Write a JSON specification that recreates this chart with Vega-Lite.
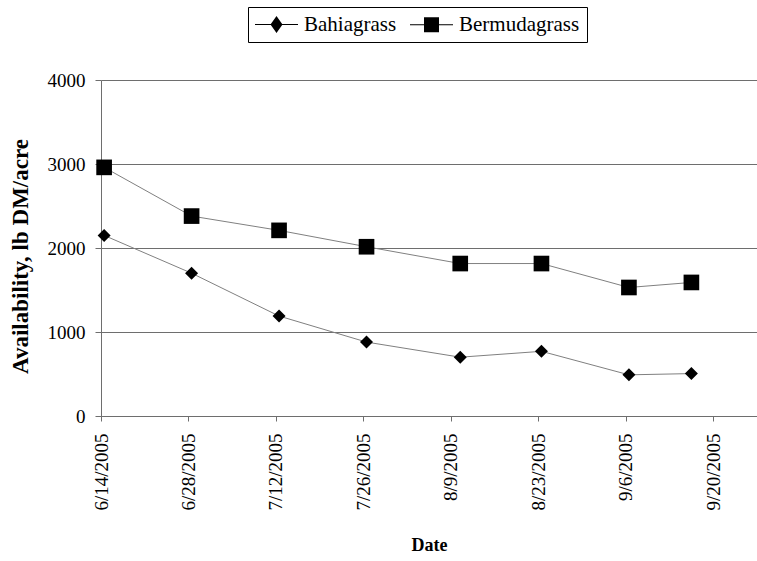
{
  "$schema": "https://vega.github.io/schema/vega-lite/v6.json",
  "autosize": "none",
  "width": 656,
  "height": 336,
  "padding": {"left": 101, "top": 80, "right": 0, "bottom": 145},
  "background": "white",
  "config": {"view": {"stroke": null}, "font": "Liberation Serif, Times New Roman, serif"},
  "data": {
    "values": [
      {"date": "2005-06-14T12:00:00Z", "series": "Bahiagrass", "value": 2150},
      {"date": "2005-06-28T12:00:00Z", "series": "Bahiagrass", "value": 1700},
      {"date": "2005-07-12T12:00:00Z", "series": "Bahiagrass", "value": 1190},
      {"date": "2005-07-26T12:00:00Z", "series": "Bahiagrass", "value": 880},
      {"date": "2005-08-10T12:00:00Z", "series": "Bahiagrass", "value": 700},
      {"date": "2005-08-23T12:00:00Z", "series": "Bahiagrass", "value": 770},
      {"date": "2005-09-06T12:00:00Z", "series": "Bahiagrass", "value": 490},
      {"date": "2005-09-16T12:00:00Z", "series": "Bahiagrass", "value": 505},
      {"date": "2005-06-14T12:00:00Z", "series": "Bermudagrass", "value": 2960},
      {"date": "2005-06-28T12:00:00Z", "series": "Bermudagrass", "value": 2380},
      {"date": "2005-07-12T12:00:00Z", "series": "Bermudagrass", "value": 2210},
      {"date": "2005-07-26T12:00:00Z", "series": "Bermudagrass", "value": 2015},
      {"date": "2005-08-10T12:00:00Z", "series": "Bermudagrass", "value": 1815},
      {"date": "2005-08-23T12:00:00Z", "series": "Bermudagrass", "value": 1815},
      {"date": "2005-09-06T12:00:00Z", "series": "Bermudagrass", "value": 1530},
      {"date": "2005-09-16T12:00:00Z", "series": "Bermudagrass", "value": 1590}
    ]
  },
  "encoding": {
    "x": {
      "field": "date",
      "type": "temporal",
      "scale": {
        "type": "utc",
        "domain": [
          {"year": 2005, "month": 6, "date": 14, "utc": true},
          {"year": 2005, "month": 9, "date": 27, "utc": true}
        ]
      },
      "axis": {
        "title": "Date",
        "values": [
          {"year": 2005, "month": 6, "date": 14, "utc": true},
          {"year": 2005, "month": 6, "date": 28, "utc": true},
          {"year": 2005, "month": 7, "date": 12, "utc": true},
          {"year": 2005, "month": 7, "date": 26, "utc": true},
          {"year": 2005, "month": 8, "date": 9, "utc": true},
          {"year": 2005, "month": 8, "date": 23, "utc": true},
          {"year": 2005, "month": 9, "date": 6, "utc": true},
          {"year": 2005, "month": 9, "date": 20, "utc": true}
        ],
        "format": "%-m/%-d/%Y",
        "labelAngle": -90,
        "labelOverlap": false,
        "labelFlush": false,
        "labelBound": false,
        "labelPadding": 12,
        "tickSize": 5,
        "labelFontSize": 19,
        "labelColor": "black",
        "labelFont": "Liberation Serif, Times New Roman, serif",
        "domainColor": "#6e6e6e",
        "tickColor": "#6e6e6e",
        "grid": false,
        "titleFontSize": 18,
        "titleFontWeight": "bold",
        "titleColor": "black",
        "titleFont": "Liberation Serif, Times New Roman, serif",
        "titleBaseline": "top",
        "titleY": 120
      }
    },
    "y": {
      "field": "value",
      "type": "quantitative",
      "scale": {"domain": [0, 4000], "nice": false},
      "axis": {
        "title": "Availability, lb DM/acre",
        "values": [0, 1000, 2000, 3000, 4000],
        "format": "d",
        "grid": true,
        "gridColor": "#6e6e6e",
        "gridWidth": 1,
        "domainColor": "#6e6e6e",
        "tickColor": "#6e6e6e",
        "tickSize": 6,
        "labelPadding": 10,
        "labelFontSize": 19,
        "labelColor": "black",
        "labelFont": "Liberation Serif, Times New Roman, serif",
        "titleFontSize": 23,
        "titleFontWeight": "bold",
        "titleColor": "black",
        "titleFont": "Liberation Serif, Times New Roman, serif",
        "titleX": -81,
        "titleY": 176,
        "titleBaseline": "middle"
      }
    }
  },
  "layer": [
    {
      "mark": {"type": "line", "color": "#808080", "strokeWidth": 1},
      "encoding": {"detail": {"field": "series"}}
    },
    {
      "mark": {"type": "point", "filled": true, "color": "black", "opacity": 1},
      "encoding": {
        "shape": {
          "field": "series",
          "type": "nominal",
          "scale": {"domain": ["Bahiagrass", "Bermudagrass"], "range": ["diamond", "square"]},
          "legend": null
        },
        "size": {
          "field": "series",
          "type": "ordinal",
          "scale": {"domain": ["Bahiagrass", "Bermudagrass"], "range": [169, 245]},
          "legend": null
        }
      }
    },
    {
      "transform": [{"filter": "false"}],
      "mark": {"type": "point", "filled": true, "color": "black", "opacity": 1},
      "encoding": {
        "shape": {
          "field": "series",
          "type": "nominal",
          "scale": {
            "domain": ["Bahiagrass", "Bermudagrass"],
            "range": [
              "M-2.15,-0.05H2.15V0.05H-2.15ZM-0.6,0L0,-0.85L0.6,0L0,0.85Z",
              "M-2.15,-0.05H2.15V0.05H-2.15ZM-0.75,-0.75H0.75V0.75H-0.75Z"
            ]
          },
          "legend": {
            "title": null,
            "orient": "none",
            "legendX": 147,
            "legendY": -73,
            "direction": "horizontal",
            "symbolSize": 400,
            "symbolOffset": 11,
            "labelOffset": 17,
            "columnPadding": 11,
            "padding": 7,
            "strokeColor": "black",
            "fillColor": "white",
            "labelFontSize": 21,
            "labelColor": "black",
            "labelFont": "Liberation Serif, Times New Roman, serif",
            "symbolFillColor": "black",
            "symbolStrokeColor": "black",
            "symbolStrokeWidth": 1,
            "symbolOpacity": 1
          }
        }
      }
    }
  ],
  "resolve": {"scale": {"shape": "independent"}}
}
